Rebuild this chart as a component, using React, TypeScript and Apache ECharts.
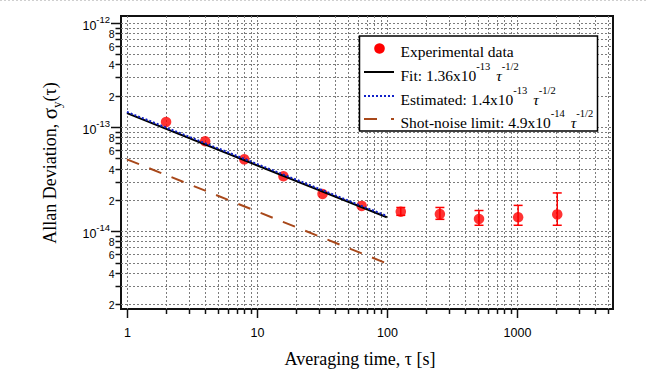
import React, { useEffect, useRef } from 'react';
import * as echarts from 'echarts';

// ---- data ----
const tau = [2, 4, 8, 16, 32, 64, 128, 256, 512, 1024, 2048];
const adev = [1.12e-13, 7.3e-14, 4.9e-14, 3.37e-14, 2.28e-14, 1.75e-14, 1.54e-14, 1.46e-14, 1.31e-14, 1.36e-14, 1.45e-14];
const errLow = [null, null, null, null, null, null, 1.42e-14, 1.3e-14, 1.14e-14, 1.14e-14, 1.14e-14];
const errHigh = [null, null, null, null, null, null, 1.69e-14, 1.69e-14, 1.58e-14, 1.77e-14, 2.33e-14];

const lineTau = [1, 100];
const fitValues = [1.36e-13, 1.36e-14];
const estValues = [1.4e-13, 1.4e-14];
const shotValues = [4.9e-14, 4.9e-15];

const xDecades = [1, 10, 100, 1000];
const xTickLabels = ['1', '10', '100', '1000'];
const yDecades = [1e-15, 1e-14, 1e-13, 1e-12];
const yMajorExponents = ['-15', '-14', '-13', '-12'];
const mantissas = [1, 2, 3, 4, 5, 6, 7, 8, 9];
const yMinorLabelled = [2, 4, 6, 8];

const xMin = 0.9;
const xMax = 5500;
const yMin = 1.79e-15;
const yMax = 1.166e-12;

const serif = '"Liberation Serif", "Times New Roman", serif';
const sans = '"Liberation Sans", Arial, sans-serif';

export default function App() {
  const ref = useRef<HTMLDivElement>(null);

  useEffect(() => {
    document.body.style.margin = '0';
    const chart = echarts.init(ref.current as HTMLDivElement, null, { renderer: 'svg' });

    const scatterData = tau.map((t, i) => [t, adev[i]]);
    const errData = tau
      .map((t, i) => [t, errLow[i], errHigh[i]])
      .filter((d) => d[1] != null && d[2] != null);

    const decoRender = (params: any, api: any) => {
      const cs = params.coordSys;
      const L = cs.x;
      const T = cs.y;
      const R = cs.x + cs.width;
      const B = cs.y + cs.height;
      const children: any[] = [];
      const gridStyle = { stroke: '#7c7c7c', lineWidth: 1, lineDash: [2, 2] };
      const tickStyle = { stroke: '#111', lineWidth: 1.5 };

      xDecades.forEach((d, di) => {
        mantissas.forEach((m) => {
          const v = m * d;
          if (v <= xMin || v >= xMax) return;
          const px = Math.round(api.coord([v, yMax])[0]) + 0.5;
          children.push({ type: 'line', shape: { x1: px, y1: T, x2: px, y2: B }, style: gridStyle });
          const len = m === 1 ? 9 : 5;
          children.push({ type: 'line', shape: { x1: px, y1: B, x2: px, y2: B + len }, style: tickStyle });
          if (m === 1) {
            children.push({
              type: 'text',
              x: px,
              y: B + 24,
              style: { text: xTickLabels[di], fontFamily: sans, fontSize: 12.5, fill: '#000', align: 'center', verticalAlign: 'middle' },
            });
          }
        });
      });

      yDecades.forEach((d, di) => {
        mantissas.forEach((m) => {
          const v = m * d;
          if (v <= yMin || v >= yMax) return;
          const py = Math.round(api.coord([xMin, v])[1]) + 0.5;
          children.push({ type: 'line', shape: { x1: L, y1: py, x2: R, y2: py }, style: gridStyle });
          const len = m === 1 ? 10 : 5.5;
          children.push({ type: 'line', shape: { x1: L - len, y1: py, x2: L, y2: py }, style: tickStyle });
          if (m === 1) {
            children.push({
              type: 'text',
              x: L - 24.5,
              y: py + 2,
              style: { text: '10', fontFamily: sans, fontSize: 12.5, fill: '#000', align: 'right', verticalAlign: 'middle' },
            });
            children.push({
              type: 'text',
              x: L - 11,
              y: py - 4.5,
              style: { text: yMajorExponents[di], fontFamily: sans, fontSize: 9.5, fill: '#000', align: 'right', verticalAlign: 'middle' },
            });
          } else if (yMinorLabelled.indexOf(m) >= 0) {
            children.push({
              type: 'text',
              x: L - 6.5,
              y: py,
              style: { text: String(m), fontFamily: sans, fontSize: 10.5, fill: '#000', align: 'right', verticalAlign: 'middle' },
            });
          }
        });
      });

      return { type: 'group', children };
    };

    const errRender = (params: any, api: any) => {
      const x = api.value(0);
      const lo = api.coord([x, api.value(1)]);
      const hi = api.coord([x, api.value(2)]);
      const st = { stroke: '#ff0000', lineWidth: 1.5 };
      const w = 4.5;
      return {
        type: 'group',
        children: [
          { type: 'line', shape: { x1: lo[0], y1: lo[1], x2: hi[0], y2: hi[1] }, style: st },
          { type: 'line', shape: { x1: lo[0] - w, y1: lo[1], x2: lo[0] + w, y2: lo[1] }, style: st },
          { type: 'line', shape: { x1: hi[0] - w, y1: hi[1], x2: hi[0] + w, y2: hi[1] }, style: st },
        ],
      };
    };

    const legendRich = {
      n: { fontFamily: serif, fontSize: 15.5, fill: '#000', verticalAlign: 'bottom' },
      g: { fontFamily: serif, fontSize: 15.5, fill: '#000', verticalAlign: 'bottom', width: 6 },
      t: { fontFamily: serif, fontSize: 15.5, fontStyle: 'italic', fill: '#000', verticalAlign: 'bottom' },
      s: { fontFamily: serif, fontSize: 10.5, fill: '#000', verticalAlign: 'top' },
    } as any;

    const legendX = 359.5;
    const legendY = 36;
    const rows = [48.5, 72, 96, 119];
    const textX = 400.5;

    const legendText = (y: number, text: string) => ({
      type: 'text',
      x: textX,
      y: y,
      z: 101,
      style: { text, rich: legendRich, align: 'left', verticalAlign: 'middle', lineHeight: 22, fill: '#000', font: '15.5px ' + serif },
    });

    const option: any = {
      animation: false,
      backgroundColor: '#fff',
      grid: { left: 121, right: 35, top: 16, bottom: 67, show: true, borderColor: '#111', borderWidth: 2, backgroundColor: 'transparent' },
      xAxis: {
        type: 'log',
        min: xMin,
        max: xMax,
        logBase: 10,
        axisLine: { show: false },
        axisTick: { show: false },
        axisLabel: { show: false },
        splitLine: { show: false },
      },
      yAxis: {
        type: 'log',
        min: yMin,
        max: yMax,
        logBase: 10,
        axisLine: { show: false },
        axisTick: { show: false },
        axisLabel: { show: false },
        splitLine: { show: false },
      },
      series: [
        { type: 'custom', z: 1, silent: true, renderItem: decoRender, data: [[10, 1e-13]], clip: false },
        { type: 'custom', z: 3, silent: true, renderItem: errRender, data: errData },
        { type: 'scatter', z: 4, data: scatterData, symbol: 'circle', symbolSize: 10.5, itemStyle: { color: '#ff0000' } },
        {
          type: 'line', z: 5, data: lineTau.map((t, i) => [t, fitValues[i]]), showSymbol: false,
          lineStyle: { color: '#000', width: 2 },
        },
        {
          type: 'line', z: 6, data: lineTau.map((t, i) => [t, estValues[i]]), showSymbol: false,
          lineStyle: { color: '#1020c8', width: 2, type: [2, 2] },
        },
        {
          type: 'line', z: 6, data: lineTau.map((t, i) => [t, shotValues[i]]), showSymbol: false,
          lineStyle: { color: '#a8481a', width: 2, type: [13, 11] },
        },
      ],
      graphic: [
        { type: 'line', z: 100, shape: { x1: 0, y1: 0.5, x2: 648, y2: 0.5 }, style: { stroke: '#cfcfcf', lineWidth: 1, lineDash: [2, 2] } },
        {
          type: 'rect', z: 100,
          shape: { x: legendX, y: legendY, width: 238, height: 95 },
          style: { fill: '#fff', stroke: '#000', lineWidth: 1.5 },
        },
        { type: 'circle', z: 101, shape: { cx: 379.5, cy: rows[0], r: 5.3 }, style: { fill: '#ff0000' } },
        legendText(rows[0], '{n|Experimental data}'),
        { type: 'line', z: 101, shape: { x1: 364, y1: rows[1], x2: 394, y2: rows[1] }, style: { stroke: '#000', lineWidth: 2 } },
        legendText(rows[1], '{n|Fit: 1.36x10}{s|-13}{g| }{t|τ}{s|-1/2}'),
        { type: 'line', z: 101, shape: { x1: 364, y1: rows[2], x2: 395, y2: rows[2] }, style: { stroke: '#1020c8', lineWidth: 2, lineDash: [2, 2] } },
        legendText(rows[2], '{n|Estimated: 1.4x10}{s|-13}{g| }{t|τ}{s|-1/2}'),
        { type: 'line', z: 101, shape: { x1: 364, y1: rows[3], x2: 394, y2: rows[3] }, style: { stroke: '#a8481a', lineWidth: 2, lineDash: [13, 14] } },
        legendText(rows[3], '{n|Shot-noise limit: 4.9x10}{s|-14}{g| }{t|τ}{s|-1/2}'),
        {
          type: 'text', z: 100, x: 360, y: 359,
          style: { text: 'Averaging time, τ [s]', font: '18px ' + serif, fill: '#000', align: 'center', verticalAlign: 'middle' },
        },
        {
          type: 'text', z: 100, x: 50, y: 163, rotation: Math.PI / 2,
          style: {
            text: '{a|Allan Deviation, }{g|σ}{b|y}{a|(τ)}',
            font: '18px ' + serif,
            align: 'center',
            verticalAlign: 'middle',
            lineHeight: 26,
            fill: '#000',
            rich: {
              a: { fontFamily: serif, fontSize: 18, fill: '#000', verticalAlign: 'middle' },
              g: { fontFamily: serif, fontSize: 21, fill: '#000', verticalAlign: 'middle' },
              b: { fontFamily: serif, fontSize: 13, fill: '#000', verticalAlign: 'bottom' },
            },
          },
        },
      ],
    };

    chart.setOption(option);
    return () => chart.dispose();
  }, []);

  return <div ref={ref} style={{ width: 648, height: 376 }} />;
}
